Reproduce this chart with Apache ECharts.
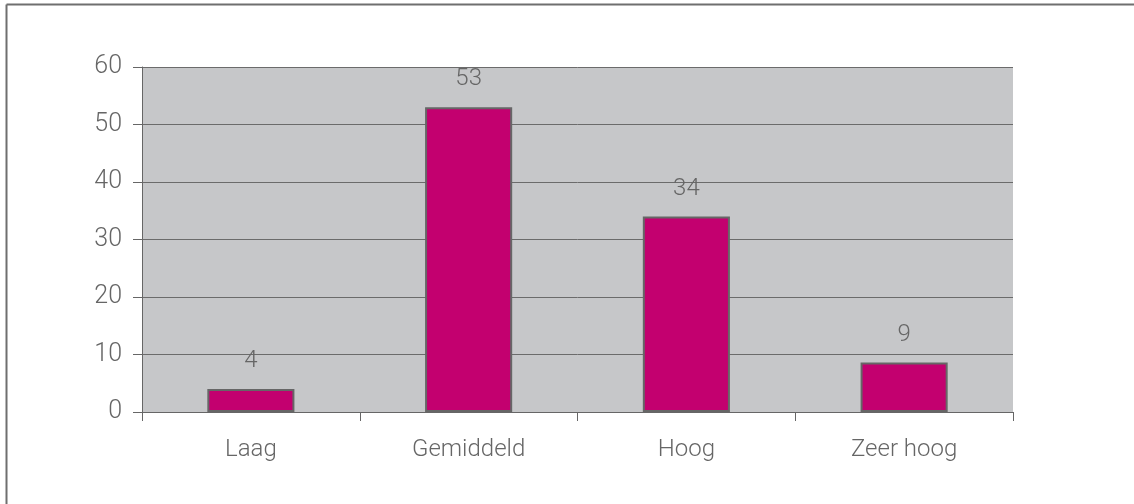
<!DOCTYPE html>
<html>
<head>
<meta charset="utf-8">
<script src="https://cdn.jsdelivr.net/npm/echarts@6/dist/echarts.min.js"></script>
<style>
html,body{margin:0;padding:0;background:#fff;}
#c{width:1134px;height:504px;}
</style>
</head>
<body>
<div id="c"></div>
<script>
const categories = ['Laag', 'Gemiddeld', 'Hoog', 'Zeer hoog'];
const values = [4, 53, 34, 8.6];
const yTicks = [0, 10, 20, 30, 40, 50, 60];

const chart = echarts.init(document.getElementById('c'));
const font = 'Roboto, "Liberation Sans", sans-serif';
chart.setOption({
  animation: false,
  graphic: [
    { type: 'line', shape: { x1: 6.5, y1: 4.5, x2: 1134, y2: 4.5 }, style: { stroke: '#6f6f6f', lineWidth: 2 } },
    { type: 'line', shape: { x1: 6.5, y1: 4.5, x2: 6.5, y2: 504 }, style: { stroke: '#6f6f6f', lineWidth: 2 } }
  ],
  grid: { left: 142, right: 121, top: 67, bottom: 92, show: true, backgroundColor: '#c6c7c9', borderWidth: 0 },
  xAxis: {
    type: 'category',
    data: categories,
    axisLine: { lineStyle: { color: '#666', width: 1 } },
    axisTick: { show: true, length: 9, alignWithLabel: false, lineStyle: { color: '#666' } },
    axisLabel: { color: '#666', fontSize: 24, fontFamily: font, fontWeight: 300, margin: 26 }
  },
  yAxis: {
    type: 'value',
    min: yTicks[0],
    max: yTicks[yTicks.length - 1],
    interval: 10,
    axisLine: { show: true, lineStyle: { color: '#666', width: 1 } },
    axisTick: { show: true, length: 9, lineStyle: { color: '#666' } },
    splitLine: { show: true, lineStyle: { color: '#6b6b6b', width: 1 } },
    axisLabel: { color: '#666', fontSize: 25, fontFamily: font, fontWeight: 300, margin: 20 }
  },
  series: [{
    type: 'bar',
    data: values,
    barWidth: '40%',
    itemStyle: { color: '#c3006f', borderColor: '#666', borderWidth: 2 },
    label: {
      show: true, position: 'top', distance: 16,
      color: '#666', fontSize: 24, fontFamily: font, fontWeight: 300,
      formatter: p => Math.round(p.value)
    }
  }]
});
</script>
</body>
</html>
